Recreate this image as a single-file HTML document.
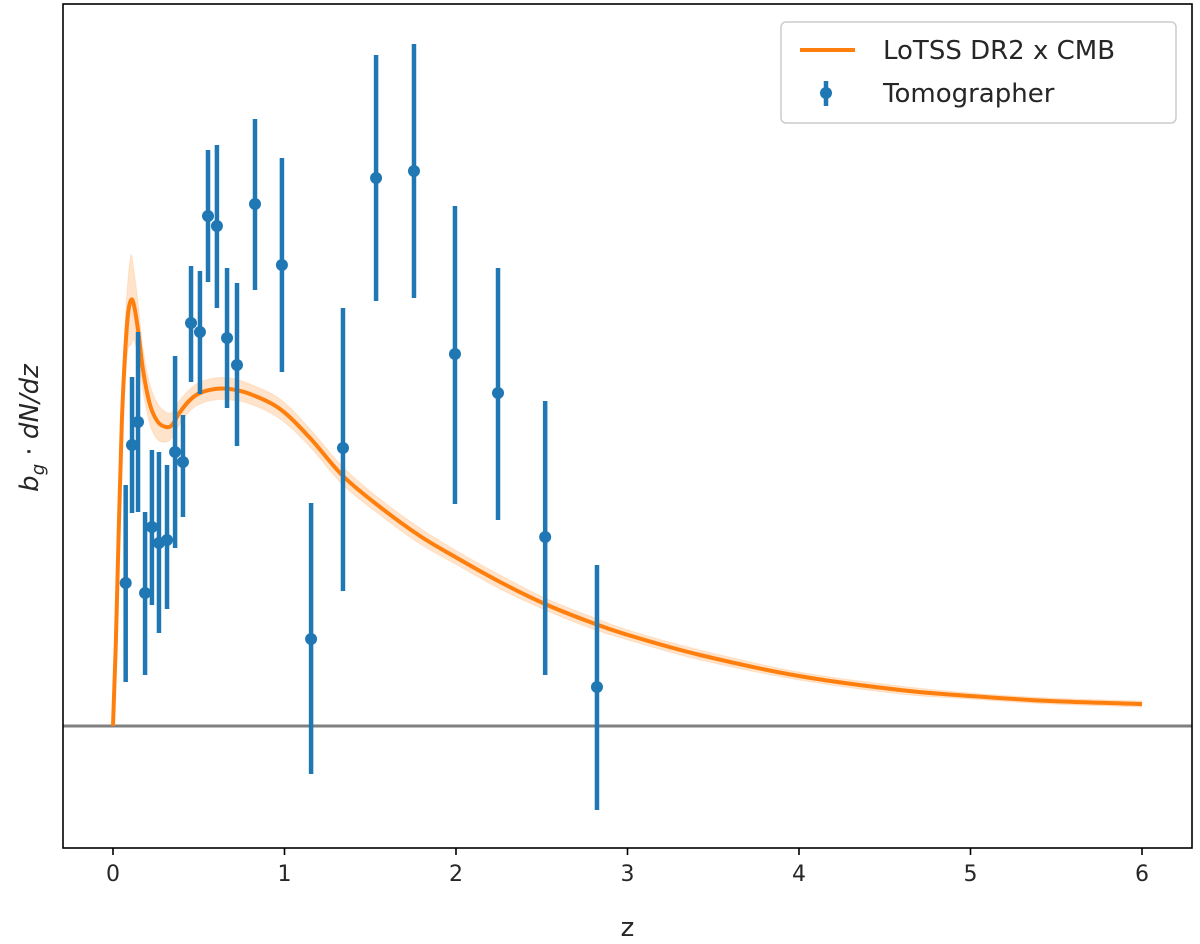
<!DOCTYPE html>
<html><head><meta charset="utf-8"><style>
body{margin:0;background:#fff}
svg{display:block;font-family:"DejaVu Sans","Liberation Sans",sans-serif}
</style></head><body>
<svg id="chart" width="1200" height="944">
<g id="plot"></g>
</svg>
<script>
const curveZ=[0,0.017,0.035,0.052,0.07,0.087,0.105,0.122,0.146,0.175,0.216,0.262,0.309,0.344,0.391,0.449,0.507,0.595,0.682,0.799,0.974,1.149,1.341,1.557,1.79,2.006,2.257,2.519,2.781,3.003,3.423,4.0,4.589,5.0,5.464,6.0];
const curveV=[0,0.86,2.06,3.06,3.71,4.11,4.26,4.21,3.96,3.56,3.21,3.04,2.99,3.01,3.14,3.26,3.33,3.37,3.37,3.32,3.17,2.88,2.50,2.19,1.90,1.68,1.44,1.22,1.04,0.91,0.71,0.50,0.36,0.30,0.25,0.22];
const curveErr=[0,0.05,0.15,0.25,0.3,0.35,0.45,0.35,0.28,0.22,0.2,0.18,0.15,0.13,0.12,0.11,0.11,0.11,0.11,0.1,0.1,0.09,0.09,0.08,0.08,0.07,0.07,0.06,0.06,0.05,0.05,0.04,0.04,0.03,0.03,0.03];
const ptZ=[0.074,0.111,0.146,0.187,0.227,0.268,0.315,0.362,0.408,0.455,0.507,0.665,0.723,0.554,0.606,0.828,0.985,1.155,1.341,1.534,1.755,1.994,2.245,2.52,2.822];
const ptV=[1.43,2.81,3.04,1.33,1.99,1.83,1.86,2.74,2.64,4.03,3.94,3.88,3.61,5.10,5.00,5.22,4.61,0.87,2.78,5.48,5.55,3.72,3.33,1.89,0.39];
const ptUp=[2.41,3.49,3.94,2.14,2.76,2.74,2.61,3.70,3.11,4.60,4.55,4.58,4.43,5.76,5.81,6.07,5.68,2.23,4.18,6.71,6.82,5.20,4.58,3.25,1.61];
const ptLo=[0.44,2.13,2.14,0.51,1.21,0.93,1.17,1.78,2.09,3.44,3.32,3.18,2.80,4.44,4.18,4.36,3.54,-0.48,1.35,4.25,4.28,2.22,2.06,0.51,-0.84];
const xTicks=[0,1,2,3,4,5,6];
const ns="http://www.w3.org/2000/svg";
const L=63,R=1192,T=4,B=848;
const xMin=-0.2915,xMax=6.2915,yMin=-1.22,yMax=7.22;
const X=z=>L+(z-xMin)/(xMax-xMin)*(R-L);
const Y=v=>B-(v-yMin)/(yMax-yMin)*(B-T);
const svg=document.getElementById('chart');
function mk(tag,attrs,parent){const e=document.createElementNS(ns,tag);for(const k in attrs)e.setAttribute(k,attrs[k]);(parent||svg).appendChild(e);return e;}
function smooth(pts){
 let d='M'+pts[0][0]+','+pts[0][1];
 for(let i=0;i<pts.length-1;i++){
  const p0=pts[Math.max(0,i-1)],p1=pts[i],p2=pts[i+1],p3=pts[Math.min(pts.length-1,i+2)];
  const c1=[p1[0]+(p2[0]-p0[0])/6,p1[1]+(p2[1]-p0[1])/6];
  const c2=[p2[0]-(p3[0]-p1[0])/6,p2[1]-(p3[1]-p1[1])/6];
  d+=' C'+c1[0]+','+c1[1]+' '+c2[0]+','+c2[1]+' '+p2[0]+','+p2[1];
 }
 return d;
}
let zl=mk('line',{x1:L,x2:R,y1:Y(0),y2:Y(0),stroke:'#808080','stroke-width':3});


const upPts=curveZ.map((z,i)=>[X(z),Y(curveV[i]+curveErr[i])]);
const dnPts=curveZ.map((z,i)=>[X(z),Y(Math.max(0,curveV[i]-curveErr[i]))]).reverse();
const upD=smooth(upPts);
const dnD=smooth(dnPts).replace(/^M/,' L');
let band=mk('path',{d:upD+dnD+' Z',fill:'#ff7f0e','fill-opacity':0.22,stroke:'#ff7f0e','stroke-opacity':0.12});


let line=mk('path',{d:smooth(curveZ.map((z,i)=>[X(z),Y(curveV[i])])),fill:'none',stroke:'#ff7f0e','stroke-width':4,'stroke-linejoin':'round'});


ptZ.forEach((z,i)=>{
 const g=mk('g',{});
 
 
 mk('line',{x1:X(z),x2:X(z),y1:Y(ptUp[i]),y2:Y(ptLo[i]),stroke:'#1f77b4','stroke-width':4.5},g);
 mk('circle',{cx:X(z),cy:Y(ptV[i]),r:6,fill:'#1f77b4'},g);
});
let fr=mk('rect',{x:L,y:T,width:R-L,height:B-T,fill:'none',stroke:'#000','stroke-width':1.6});


xTicks.forEach(t=>{
 const tk=mk('line',{x1:X(t),x2:X(t),y1:B,y2:B+7,stroke:'#000','stroke-width':1.6});
 
 
 const tl=mk('text',{x:X(t),y:B+33,'text-anchor':'middle','font-size':22,fill:'#262626'});
 tl.textContent=t;
 
 
});
let xt=mk('text',{x:(L+R)/2,y:936,'text-anchor':'middle','font-size':26,fill:'#262626'});
xt.textContent='z';


let yt=mk('text',{x:0,y:0,'text-anchor':'middle','font-size':26,fill:'#262626',transform:'translate(38,428) rotate(-90)','font-style':'italic'});
yt.innerHTML='b<tspan font-size="18" dy="6">g</tspan><tspan dy="-6" font-style="normal"> · </tspan>dN/dz';


const lg=mk('g',{});


mk('rect',{x:781,y:22,width:395,height:101,rx:5,fill:'#fff',stroke:'#ccc','stroke-width':1.5},lg);
mk('line',{x1:800,x2:855,y1:50,y2:50,stroke:'#ff7f0e','stroke-width':4},lg);
let t1=mk('text',{x:883,y:59,'font-size':26,fill:'#262626'},lg);t1.textContent='LoTSS DR2 x CMB';
mk('line',{x1:826,x2:826,y1:81,y2:106,stroke:'#1f77b4','stroke-width':4.5},lg);
mk('circle',{cx:826,cy:93,r:6,fill:'#1f77b4'},lg);
let t2=mk('text',{x:883,y:102,'font-size':26,fill:'#262626'},lg);t2.textContent='Tomographer';
</script>
</body></html>
